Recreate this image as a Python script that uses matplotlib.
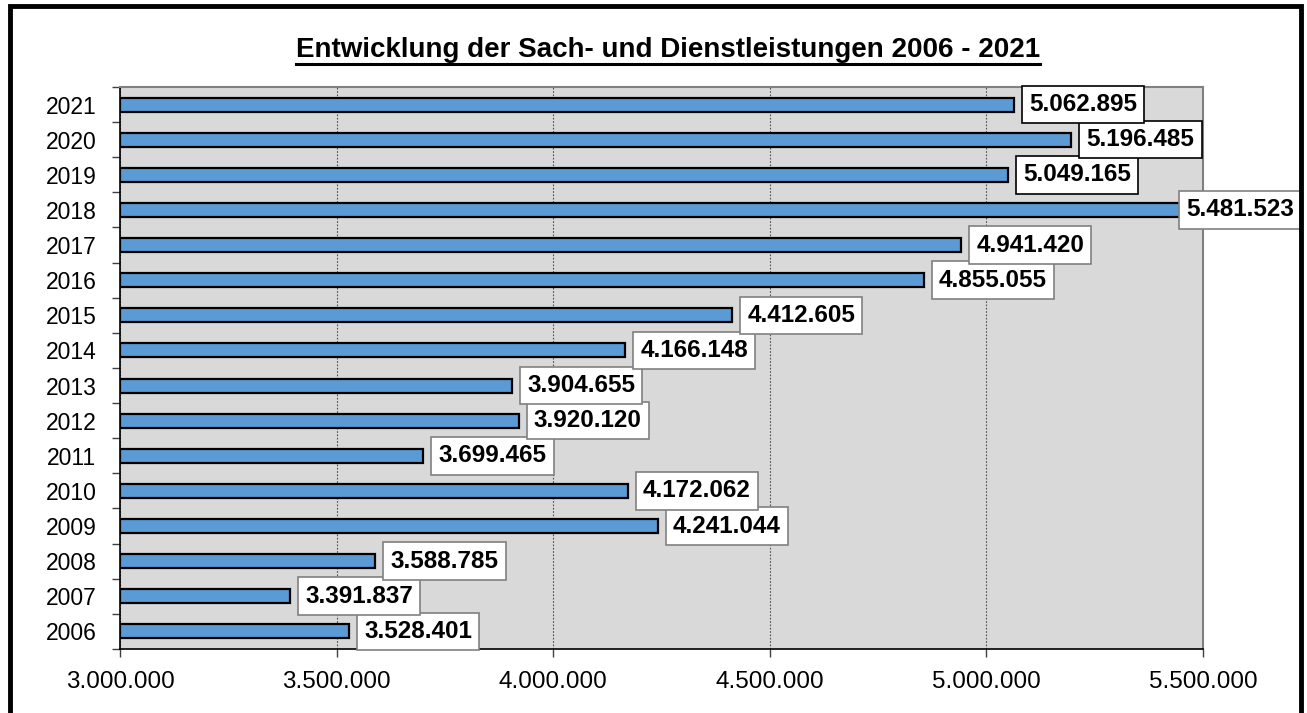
import matplotlib
matplotlib.use("Agg")
import matplotlib.pyplot as plt
from matplotlib.patches import Rectangle
from matplotlib.lines import Line2D

plt.rcParams['font.family'] = ['Liberation Sans', 'DejaVu Sans']

jahre = ["2006", "2007", "2008", "2009", "2010", "2011", "2012", "2013",
         "2014", "2015", "2016", "2017", "2018", "2019", "2020", "2021"]
werte = [3528401, 3391837, 3588785, 4241044, 4172062, 3699465, 3920120, 3904655,
         4166148, 4412605, 4855055, 4941420, 5481523, 5049165, 5196485, 5062895]
x_ticks = [3000000, 3500000, 4000000, 4500000, 5000000, 5500000]

titel = "Entwicklung der Sach- und Dienstleistungen 2006 - 2021"

def fmt(v):
    return "{:,}".format(v).replace(",", ".")

fig = plt.figure(figsize=(13.07, 7.13), dpi=100)
ax = fig.add_axes([0.0918, 0.0898, 0.8286, 0.7882])
ax.set_facecolor("#d9d9d9")

pos = list(range(len(jahre)))
ax.barh(pos, [w - 3000000 for w in werte], left=3000000, height=0.4,
        color="#5b9bd5", edgecolor="black", linewidth=1.6, zorder=3)

ax.set_xlim(3000000, 5500000)
ax.set_ylim(-0.5, len(jahre) - 0.5)
ax.set_xticks(x_ticks)
ax.set_xticklabels([fmt(t) for t in x_ticks], fontsize=17.5)
ax.set_yticks(pos)
ax.set_yticklabels(jahre, fontsize=16.5)
ax.set_yticks([p - 0.5 for p in pos] + [len(jahre) - 0.5], minor=True)
ax.tick_params(axis="y", which="major", length=0, pad=17)
ax.tick_params(axis="y", which="minor", length=6, color="#404040", width=1)
ax.tick_params(axis="x", length=6, color="#404040", width=1, pad=10)

ax.grid(axis="x", color="#505050", linestyle=(0, (1.5, 1.5)), linewidth=0.8, zorder=1)

for s in ["top", "right"]:
    ax.spines[s].set_color("#808080")
    ax.spines[s].set_linewidth(1.5)
for s in ["left", "bottom"]:
    ax.spines[s].set_color("black")
    ax.spines[s].set_linewidth(1.2)

for i, w in enumerate(werte):
    rand = "black" if i >= 13 else "#808080"
    dx = -6 if jahre[i] == "2018" else 11
    ax.annotate(fmt(w), xy=(w, i), xytext=(dx, 0), textcoords="offset points",
                ha="left", va="center", fontsize=17.5, fontweight="bold", zorder=5,
                bbox=dict(boxstyle="square,pad=0.3", facecolor="white",
                          edgecolor=rand, linewidth=1.2))

t = fig.text(0.511, 0.93, titel, ha="center", va="center",
             fontsize=20, fontweight="bold")

# Unterstreichung des Titels
fig.canvas.draw()
bb = t.get_window_extent().transformed(fig.transFigure.inverted())
fig.add_artist(Line2D([bb.x0, bb.x1], [bb.y0 - 0.002, bb.y0 - 0.002],
                      color="black", linewidth=2.2, transform=fig.transFigure))

# Rahmen um die Grafik
fig.add_artist(Rectangle((0.0075, -0.05), 0.988, 1.042, transform=fig.transFigure,
                         fill=False, edgecolor="black", linewidth=3.5, zorder=10))

fig.savefig("out.png", dpi=100)
